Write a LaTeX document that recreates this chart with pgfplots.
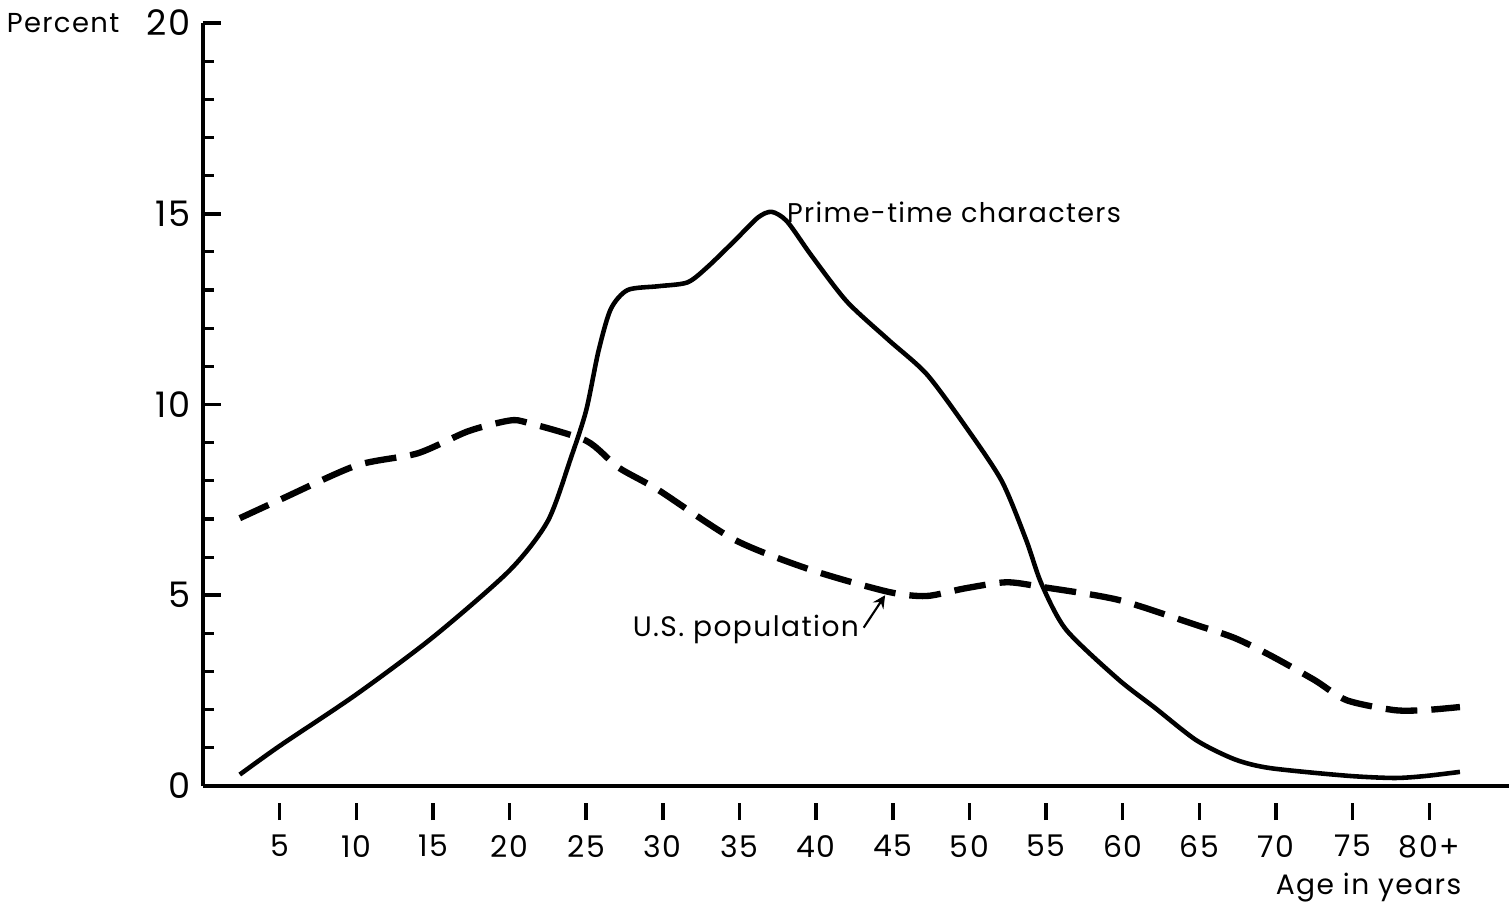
\documentclass[border=0pt]{standalone}
\usepackage{fontspec}
\setmainfont{Poppins}[LetterSpace=5]
\usepackage{pgfplots}
\pgfplotsset{compat=1.18}

% age distribution
\pgfplotstableread{
age  pct
2.4  0.30
5    1.05
10   2.40
15   3.90
20   5.65
22.5 6.95
24   8.60
25   9.85
25.8 11.40
26.6 12.50
27.7 13.00
29.7 13.10
31.6 13.20
32.9 13.60
34.7 14.30
36.2 14.90
37.1 15.05
38.1 14.80
39.7 13.90
42   12.70
44.7 11.70
47.2 10.80
49.7 9.45
52.1 8.00
53.7 6.45
54.7 5.30
56.3 4.10
59.7 2.80
62.1 2.05
64.8 1.20
67.3 0.70
69.6 0.47
74.6 0.27
77.7 0.21
79.7 0.26
82   0.37
}\primetime

\pgfplotstableread{
age  pct
2.4  7.02
5    7.50
10   8.40
14   8.72
17.3 9.30
20   9.58
21.2 9.52
25   9.05
27.1 8.35
29.7 7.76
34.7 6.45
39.7 5.66
44.7 5.09
47.2 4.98
49.7 5.18
52.4 5.34
54.7 5.22
59.7 4.88
64.8 4.22
67.3 3.88
69.6 3.43
72.5 2.78
74.6 2.25
77.7 1.99
79.7 1.99
82   2.07
}\uspop

\begin{document}
\begin{tikzpicture}
\begin{axis}[
  scale only axis, width=13.06cm, height=7.63cm,
  xmin=0, xmax=85.2, ymin=0, ymax=20,
  axis x line=bottom, axis y line=left,
  axis line style={line width=1.1pt, -},
  xtick={5,10,15,20,25,30,35,40,45,50,55,60,65,70,75,80},
  xticklabels={5,10,15,20,25,30,35,40,45,50,55,60,65,70,75,80+},
  ytick={0,5,10,15,20},
  minor ytick={1,2,3,4,6,7,8,9,11,12,13,14,16,17,18,19},
  tick align=inside,
  major tick length=5pt, minor tick length=3pt,
  y tick style={line width=0.9pt, black},
  major y tick style={line width=1pt, black},
  x tick style={line width=1pt, black, yshift=-9.7pt},
  xticklabel style={font=\fontsize{8.5}{9}\selectfont, yshift=-10.5pt},
  yticklabel style={font=\fontsize{10}{11}\selectfont},
  /pgf/number format/assume math mode=true,
  clip=false,
]
\addplot[black, line width=1.3pt, smooth, tension=0.45] table[x=age, y=pct] {\primetime};
\addplot[black, line width=1.8pt, smooth, tension=0.45, dash pattern=on 9pt off 4pt] table[x=age, y=pct] {\uspop};

\node[anchor=west, font=\fontsize{7.7}{9}\selectfont] at (axis cs:37.3,15.05) {Prime-time characters};
\node[anchor=east, font=\fontsize{8}{9}\selectfont] at (axis cs:43.6,4.1) {U.S. population};
\draw[-stealth, line width=0.6pt] (axis cs:43.1,4.15) -- (axis cs:44.5,5.0);

\node[anchor=east, inner sep=0pt, font=\fontsize{7.8}{9}\selectfont] at (rel axis cs:0,1) [xshift=-0.83cm] {Percent};
\node[anchor=north east, inner sep=0pt, font=\fontsize{8}{9}\selectfont]
  at (rel axis cs:1,0) [xshift=-0.47cm, yshift=-0.86cm] {Age in years};
\end{axis}
\pgfresetboundingbox
\path[use as bounding box] ([xshift=-2.03cm, yshift=-1.2cm]current axis.south west) rectangle ([yshift=0.23cm]current axis.north east);
\end{tikzpicture}
\end{document}
